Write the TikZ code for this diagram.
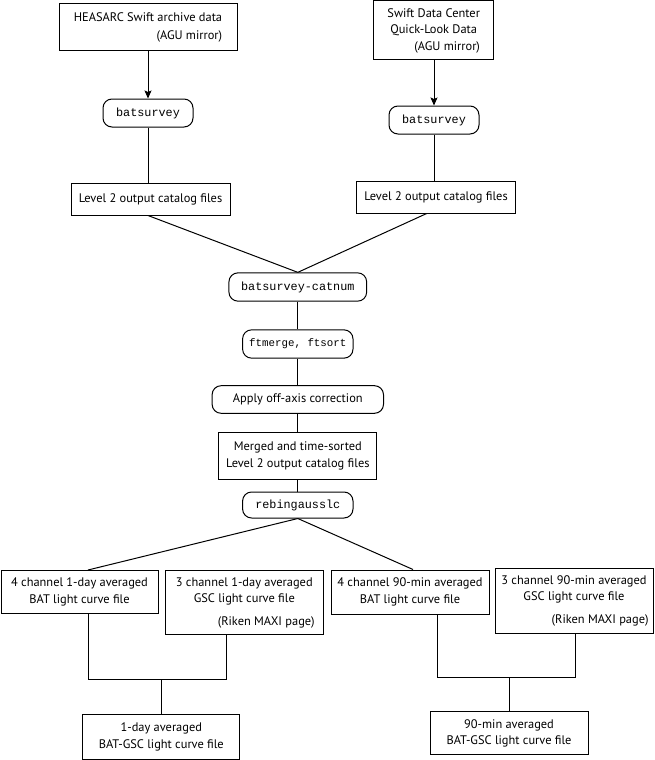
\documentclass[tikz,border=0pt]{standalone}
\usepackage{fontspec}
\setmainfont{PT Sans}
\setmonofont{Liberation Mono}
\usepackage{calc}
\usetikzlibrary{arrows.meta}
\begin{document}
\begin{tikzpicture}[x=1pt,y=-1pt,
  box/.style={draw, line width=1pt, inner sep=0pt, align=center,
    font=\fontsize{12.4}{16.5}\selectfont},
  rbox/.style={draw, line width=1pt, rounded corners=9pt, inner sep=0pt,
    font=\fontsize{12.4}{14}\selectfont},
  prog/.style={rbox, font=\fontsize{11.8}{14}\selectfont\ttfamily},
  conn/.style={line width=1pt},
  arr/.style={conn, -{Stealth[length=8pt,width=7pt,inset=1.5pt]}}]
\useasboundingbox (0,0) rectangle (654,760);

\node[box, minimum width=178pt, minimum height=47pt, align=right] (heasarc) at (148,27.5)
  {HEASARC Swift archive data\\[1.5pt](AGU mirror)};
\node[box, minimum width=120pt, minimum height=59pt] (sdc) at (433.7,30.5)
  {Swift Data Center\\Quick-Look Data\\\makebox[\widthof{Swift Data Center}][r]{(AGU mirror)}};

\node[prog, minimum width=90pt, minimum height=28pt] (bs1) at (148,113) {batsurvey};
\node[prog, minimum width=90pt, minimum height=28pt] (bs2) at (434,120) {batsurvey};

\node[box, minimum width=159pt, minimum height=32pt] (lvla) at (150.5,199) {Level 2 output catalog files};
\node[box, minimum width=158.6pt, minimum height=32pt] (lvlb) at (436,197) {Level 2 output catalog files};

\node[prog, minimum width=137.7pt, minimum height=28.3pt] (catnum) at (297.8,287) {batsurvey-catnum};
\node[prog, minimum width=110.4pt, minimum height=28.3pt, font=\fontsize{10.8}{14}\selectfont\ttfamily] (ftm) at (297.8,344) {ftmerge, ftsort};
\node[rbox, minimum width=171.4pt, minimum height=27.6pt] (apply) at (297.8,399.5) {Apply off-axis correction};
\node[box, minimum width=157.7pt, minimum height=46.6pt] (merged) at (297.8,456)
  {Merged and time-sorted\\Level 2 output catalog files};
\node[prog, minimum width=110.4pt, minimum height=26pt] (rebin) at (297.8,505) {rebingausslc};

\node[box, minimum width=157pt, minimum height=43pt] (bat1) at (79.5,592)
  {4 channel 1-day averaged\\BAT light curve file};
\node[box, minimum width=158pt, minimum height=63.6pt] (gsc1) at (244.3,602.5)
  {3 channel 1-day averaged\\GSC light curve file\\[6pt]\makebox[\widthof{3 channel 1-day averaged}+4pt][r]{(Riken MAXI page)}};
\node[box, minimum width=158pt, minimum height=44pt] (bat90) at (410,592)
  {4 channel 90-min averaged\\BAT light curve file};
\node[box, minimum width=158pt, minimum height=65pt] (gsc90) at (574,600.5)
  {3 channel 90-min averaged\\GSC light curve file\\[6pt]\makebox[\widthof{3 channel 90-min averaged}+4pt][r]{(Riken MAXI page)}};

\node[box, minimum width=157pt, minimum height=44.3pt] (sum1) at (161.3,737)
  {1-day averaged\\BAT-GSC light curve file};
\node[box, minimum width=158pt, minimum height=43.3pt] (sum90) at (509,733.3)
  {90-min averaged\\BAT-GSC light curve file};

\draw[arr] (heasarc) -- (bs1);
\draw[arr] (bs2 |- sdc.south) -- (bs2.north);
\draw[conn] (bs1) -- (bs1 |- lvla.north);
\draw[conn] (bs2) -- (bs2 |- lvlb.north);
\draw[conn] (bs1 |- lvla.south) -- (catnum.north);
\draw[conn] ([xshift=-9.3pt]lvlb.south) -- (catnum.north);
\draw[conn] (catnum) -- (ftm);
\draw[conn] (ftm) -- (apply);
\draw[conn] (apply) -- (merged);
\draw[conn] (merged) -- (rebin);
\draw[conn] (rebin.south) -- ([xshift=8.5pt]bat1.north);
\draw[conn] (rebin.south) -- ([xshift=3pt]bat90.north);

\coordinate (j1) at (161.3,679.3);
\draw[conn] ([xshift=8.8pt]bat1.south) |- (j1) -| ([xshift=-17.6pt]gsc1.south);
\draw[conn] (j1) -- (sum1.north);
\coordinate (j2) at (509,677.3);
\draw[conn] ([xshift=27.3pt]bat90.south) |- (j2) -| ([xshift=1.7pt]gsc90.south);
\draw[conn] (j2) -- (sum90.north);
\end{tikzpicture}
\end{document}
